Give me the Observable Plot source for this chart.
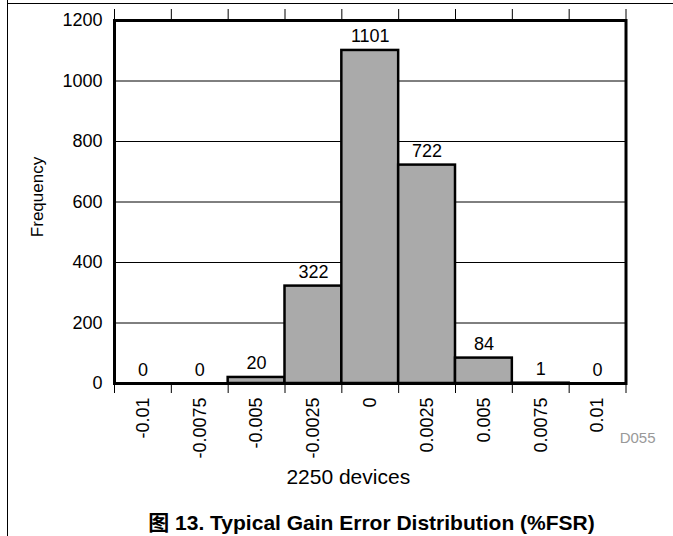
<!DOCTYPE html>
<html><head><meta charset="utf-8">
<script src="https://cdn.jsdelivr.net/npm/d3@7"></script>
<script src="https://cdn.jsdelivr.net/npm/@observablehq/plot@0.6"></script>
<style>
body{margin:0;background:#fff;}
#wrap{position:relative;width:673px;height:536px;overflow:hidden;font-family:"Liberation Sans",Arial,sans-serif;}
#frameTop{position:absolute;left:7px;top:3px;width:666px;height:1px;background:#000;}
#frameLeft{position:absolute;left:7px;top:0;width:1px;height:536px;background:#000;}
#chart{position:absolute;left:0;top:0;}
#caption{position:absolute;left:0;top:512px;width:673px;padding-left:70px;box-sizing:border-box;text-align:center;font-weight:bold;font-size:21px;line-height:21px;font-family:"Liberation Sans","Noto Sans CJK SC",Arial,sans-serif;}
</style></head>
<body><div id="wrap"><div id="chart"></div><div id="frameTop"></div><div id="frameLeft"></div><div id="caption">图 13. Typical Gain Error Distribution (%FSR)</div></div>
<script>
const binCenters = [-0.01, -0.0075, -0.005, -0.0025, 0, 0.0025, 0.005, 0.0075, 0.01];
const binLabels = ["-0.01", "-0.0075", "-0.005", "-0.0025", "0", "0.0025", "0.005", "0.0075", "0.01"];
const counts = [0, 0, 20, 322, 1101, 722, 84, 1, 0];
const yTicks = [0, 200, 400, 600, 800, 1000, 1200];
const gridTicks = [200, 400, 600, 800, 1000];
const xTitle = "2250 devices";
const yTitle = "Frequency";
const figCode = "D055";

const step = binCenters[1] - binCenters[0];
const bins = binCenters.map((c, i) => ({center: c, x1: c - step / 2, x2: c + step / 2, count: counts[i], label: binLabels[i]}));
const edges = binCenters.map(c => c - step / 2).concat([binCenters[binCenters.length - 1] + step / 2]);

const chart = Plot.plot({
  width: 673,
  height: 500,
  marginLeft: 114,
  marginRight: 47.5,
  marginTop: 20,
  marginBottom: 117,
  style: {fontFamily: "Liberation Sans, Arial, sans-serif", fontSize: "18px", color: "#000", background: "transparent", overflow: "visible"},
  x: {type: "linear", domain: [edges[0], edges[edges.length - 1]]},
  y: {domain: [0, 1200]},
  marks: [
    Plot.gridY(gridTicks, {stroke: "#000", strokeOpacity: 1, strokeWidth: 1}),
    Plot.rectY(bins.filter(d => d.count > 0), {x1: "x1", x2: "x2", y: "count", fill: "#aaa", stroke: "#000", strokeWidth: 2.5}),
    Plot.frame({stroke: "#000", strokeWidth: 3}),
    Plot.axisX(edges, {anchor: "bottom", tickSize: 10, tickFormat: () => "", label: null}),
    Plot.axisX(edges, {anchor: "top", tickSize: 12, tickFormat: () => "", label: null}),
    Plot.axisY(yTicks, {anchor: "left", tickSize: 0, tickPadding: 12, fontSize: 18, label: null, tickFormat: d => String(d)}),
    Plot.text(bins, {x: "center", frameAnchor: "bottom", text: "label", rotate: -90, textAnchor: "end", lineAnchor: "middle", dy: 14, fontSize: 18}),
    Plot.text(bins, {x: "center", y: "count", text: d => String(d.count), lineAnchor: "bottom", dy: -8, fontSize: 18}),
    Plot.text([yTitle], {frameAnchor: "left", rotate: -90, dx: -76.5, dy: -5, text: d => d, fontSize: 17, textAnchor: "middle", lineAnchor: "middle"}),
    Plot.text([xTitle], {frameAnchor: "bottom", text: d => d, textAnchor: "middle", dx: -22, dy: 100, lineAnchor: "bottom", fontSize: 21}),
    Plot.text([figCode], {frameAnchor: "bottom-right", text: d => d, textAnchor: "end", dx: 29.5, dy: 59, lineAnchor: "bottom", fontSize: 15, fill: "#999"})
  ]
});
document.getElementById("chart").appendChild(chart);
</script>
</body></html>
